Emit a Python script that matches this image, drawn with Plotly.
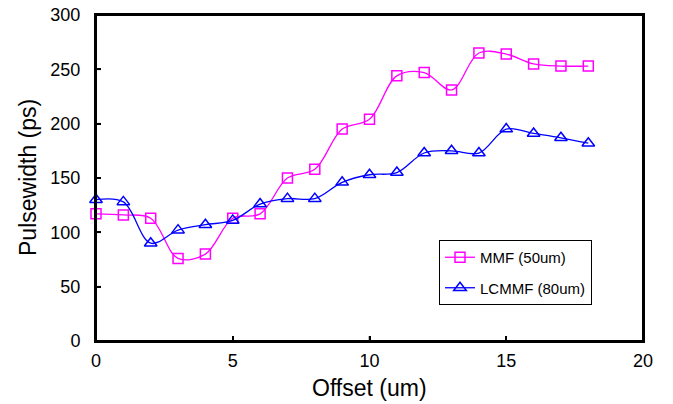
import plotly.graph_objects as go

offset = list(range(0, 19))
mmf_50um = [117, 116, 113, 76, 80, 113, 117, 150, 158, 195, 204, 244, 247, 231, 265, 264, 255, 253, 253]
lcmmf_80um = [130, 128, 90, 102, 107, 111, 126, 131, 131, 146, 153, 155, 173, 175, 173, 195, 191, 187, 182]

x_ticks = [0, 5, 10, 15, 20]
y_ticks = [0, 50, 100, 150, 200, 250, 300]

font_family = "Liberation Sans, Arial, sans-serif"

W, H = 673, 404
ML, MR, MT, MB = 96, 30, 15, 63
plot_w = W - ML - MR
plot_h = H - MT - MB
TICKLEN = 5

fig = go.Figure()
fig.add_trace(go.Scatter(
    x=offset, y=mmf_50um, name="MMF (50um)", mode="lines+markers",
    line=dict(color="#FF00FF", width=1.3, shape="spline", smoothing=1.0),
    marker=dict(symbol="square-open", size=10, color="#FF00FF", line=dict(width=1.5)),
    cliponaxis=False, legendgroup="a",
))
fig.add_trace(go.Scatter(
    x=offset, y=lcmmf_80um, name="LCMMF (80um)", mode="lines+markers",
    line=dict(color="#0000FF", width=1.3, shape="spline", smoothing=1.0),
    marker=dict(symbol="triangle-up-open", size=11, color="#0000FF", line=dict(width=1.5)),
    cliponaxis=False, legendgroup="b",
))

axis_common = dict(
    showgrid=False, zeroline=False, showline=True, linecolor="#000000", linewidth=2,
    mirror=True, ticks="inside", ticklen=TICKLEN, tickwidth=1.5, tickcolor="#000000",
    tickfont=dict(family=font_family, size=18, color="black"), automargin=False,
    layer="above traces",
)

# frame and inside tick marks (drawn as shapes, tied to the axis tick values)
shapes = [dict(type="rect", xref="paper", yref="paper", x0=0, y0=0, x1=1, y1=1,
               line=dict(color="black", width=2), layer="above")]
for v in y_ticks:
    shapes.append(dict(type="line", xref="paper", yref="y", x0=0, x1=TICKLEN / plot_w,
                       y0=v, y1=v, line=dict(color="black", width=1.5), layer="above"))
for v in x_ticks:
    shapes.append(dict(type="line", xref="x", yref="paper", x0=v, x1=v,
                       y0=0, y1=TICKLEN / plot_h, line=dict(color="black", width=1.5), layer="above"))

fig.update_layout(
    width=W, height=H,
    margin=dict(l=ML, r=MR, t=MT, b=MB),
    paper_bgcolor="white", plot_bgcolor="white",
    font=dict(family=font_family, color="black"),
    xaxis=dict(range=[0, 20], tickvals=x_ticks, ticklabelstandoff=2, **axis_common),
    yaxis=dict(range=[0, 300], tickvals=y_ticks, ticklabelstandoff=10, **axis_common),
    showlegend=True,
    legend=dict(x=(439 - ML) / plot_w, y=(MT + plot_h - 240) / plot_h, xanchor="left", yanchor="top",
                bordercolor="black", borderwidth=1, bgcolor="white",
                font=dict(family=font_family, size=15, color="black"),
                traceorder="grouped", tracegroupgap=8, itemwidth=30),
    shapes=shapes,
    annotations=[
        dict(text="Offset (um)", xref="paper", yref="paper", x=0.5, y=0, yshift=-32,
             xanchor="center", yanchor="top", showarrow=False,
             font=dict(family=font_family, size=23, color="black")),
        dict(text="Pulsewidth (ps)", xref="paper", yref="paper", x=0, y=0.5, xshift=-53,
             xanchor="right", yanchor="middle", textangle=-90, showarrow=False,
             font=dict(family=font_family, size=23, color="black")),
    ],
)

fig.write_html("out.html", config={"displayModeBar": False},
               post_script="document.body.style.margin='0';")
